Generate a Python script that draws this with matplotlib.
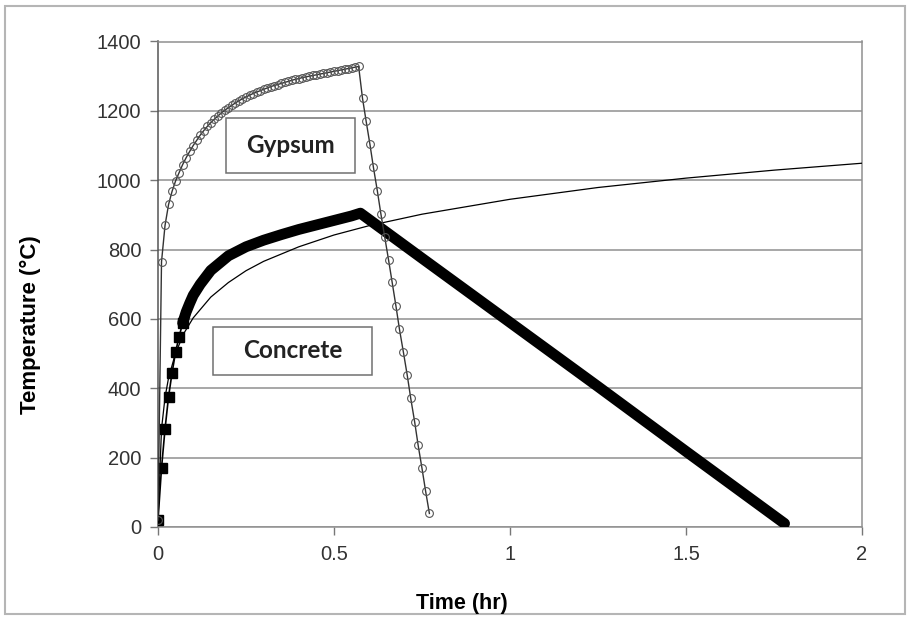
import numpy as np
import matplotlib
matplotlib.use('Agg')
import matplotlib.pyplot as plt
from matplotlib.patches import Rectangle

plt.rcParams['font.family'] = ['Liberation Sans', 'DejaVu Sans']

# standard fire curve (thin line)
iso_t = [0, 0.01, 0.02, 0.03, 0.05, 0.075, 0.1, 0.15, 0.2, 0.25, 0.3, 0.4, 0.5,
         0.6, 0.75, 1.0, 1.25, 1.5, 1.75, 2.0]
iso_T = [20, 283, 374, 430, 502, 561, 603, 663, 705, 739, 766, 808, 842,
         869, 902, 945, 979, 1006, 1029, 1049]

# concrete (filled squares)
conc_t = [0.00, 0.01, 0.02, 0.03, 0.04, 0.05, 0.06, 0.07, 0.08, 0.09, 0.10, 0.12,
          0.15, 0.20, 0.25, 0.30, 0.35, 0.40, 0.45, 0.50, 0.55, 0.575,
          0.75, 1.00, 1.25, 1.50, 1.78]
conc_T = [20, 170, 283, 376, 445, 505, 549, 588, 620, 645, 668, 700,
          740, 782, 808, 827, 843, 858, 871, 884, 897, 905,
          775, 590, 405, 218, 10]

# gypsum (open circles)
gyp_t = [0.00, 0.01, 0.02, 0.03, 0.04, 0.05, 0.06, 0.07, 0.08, 0.09,
         0.10, 0.11, 0.12, 0.13, 0.14, 0.15, 0.16, 0.17, 0.18, 0.19,
         0.20, 0.21, 0.22, 0.23, 0.24, 0.25, 0.26, 0.27, 0.28, 0.29,
         0.30, 0.31, 0.32, 0.33, 0.34, 0.35, 0.36, 0.37, 0.38, 0.39,
         0.40, 0.41, 0.42, 0.43, 0.44, 0.45, 0.46, 0.47, 0.48, 0.49,
         0.50, 0.51, 0.52, 0.53, 0.54, 0.55, 0.56, 0.57,
         0.581, 0.591, 0.602, 0.612, 0.623, 0.633, 0.644, 0.655, 0.665, 0.676,
         0.686, 0.697, 0.708, 0.718, 0.729, 0.739, 0.750, 0.760, 0.771]
gyp_T = [20, 765, 870, 930, 968, 998, 1022, 1045, 1065, 1083,
         1100, 1115, 1130, 1143, 1155, 1166, 1176, 1185, 1194, 1202,
         1209, 1216, 1223, 1229, 1235, 1240, 1245, 1250, 1254, 1258,
         1262, 1266, 1270, 1273, 1276, 1279, 1282, 1285, 1288, 1291,
         1293, 1296, 1298, 1300, 1302, 1304, 1306, 1308, 1310, 1312,
         1314, 1316, 1318, 1320, 1322, 1324, 1326, 1328,
         1236, 1172, 1104, 1037, 970, 904, 837, 770, 707, 637,
         570, 505, 438, 371, 304, 236, 169, 105, 39]

x_ticks = [0, 0.5, 1, 1.5, 2]
x_labels = ['0', '0.5', '1', '1.5', '2']
y_ticks = [0, 200, 400, 600, 800, 1000, 1200, 1400]

fig = plt.figure(figsize=(9.1, 6.2), dpi=100)
fig.patches.append(Rectangle((5 / 910, 6 / 620), 900 / 910, 608 / 620, transform=fig.transFigure,
                             fill=False, edgecolor='#b5b5b5', linewidth=1.5))
ax = fig.add_axes([158 / 910, 1 - 527 / 620, 704 / 910, 485.5 / 620])

ax.plot(iso_t, iso_T, color='black', lw=0.9, zorder=3)

# concrete: thin start with squares, thick band after the squares merge
ax.plot(conc_t, conc_T, color='black', lw=1.2, marker='s', markersize=7,
        markevery=list(range(0, 8)), zorder=4)
ax.plot(conc_t[7:], conc_T[7:], color='black', lw=7.8, solid_joinstyle='round',
        solid_capstyle='round', zorder=4)

ax.plot(gyp_t, gyp_T, color='#333333', lw=1.0, marker='o', markersize=5.6,
        markerfacecolor='none', markeredgecolor='#555555', markeredgewidth=0.8, zorder=5)

ax.set_xlim(0, 2)
ax.set_ylim(0, 1400)
ax.set_xticks(x_ticks)
ax.set_xticklabels(x_labels)
ax.set_yticks(y_ticks)
ax.tick_params(axis='both', direction='out', length=6, width=1, color='#777777',
               labelsize=14.5, labelcolor='#333333')
ax.tick_params(axis='x', pad=7)
ax.tick_params(axis='y', pad=6)
ax.yaxis.grid(True, color='#8f8f8f', lw=1.1)
ax.set_axisbelow(True)
for s in ax.spines.values():
    s.set_color('#8f8f8f')
    s.set_linewidth(1.1)
ax.spines['left'].set_color('#555555')

# label boxes
ax.add_patch(Rectangle((0.193, 1021), 0.367, 158, facecolor='white', edgecolor='#707070',
                       lw=1.1, zorder=6))
ax.text(0.376, 1100, 'Gypsum', ha='center', va='center', fontsize=17.5, fontweight='bold',
        family=['Lato', 'DejaVu Sans'], color='#222222', zorder=7)
ax.add_patch(Rectangle((0.156, 438), 0.452, 139, facecolor='white', edgecolor='#707070',
                       lw=1.1, zorder=6))
ax.text(0.382, 508, 'Concrete', ha='center', va='center', fontsize=17.5, fontweight='bold',
        family=['Lato', 'DejaVu Sans'], color='#222222', zorder=7)

fig.text(30 / 910, 1 - 325 / 620, 'Temperature (\u00b0C)', rotation=90, ha='center', va='center',
         fontsize=16, fontweight='bold')
fig.text(462 / 910, 1 - 604 / 620, 'Time (hr)', ha='center', va='center',
         fontsize=15.5, fontweight='bold')

fig.savefig('out.png', dpi=100)
